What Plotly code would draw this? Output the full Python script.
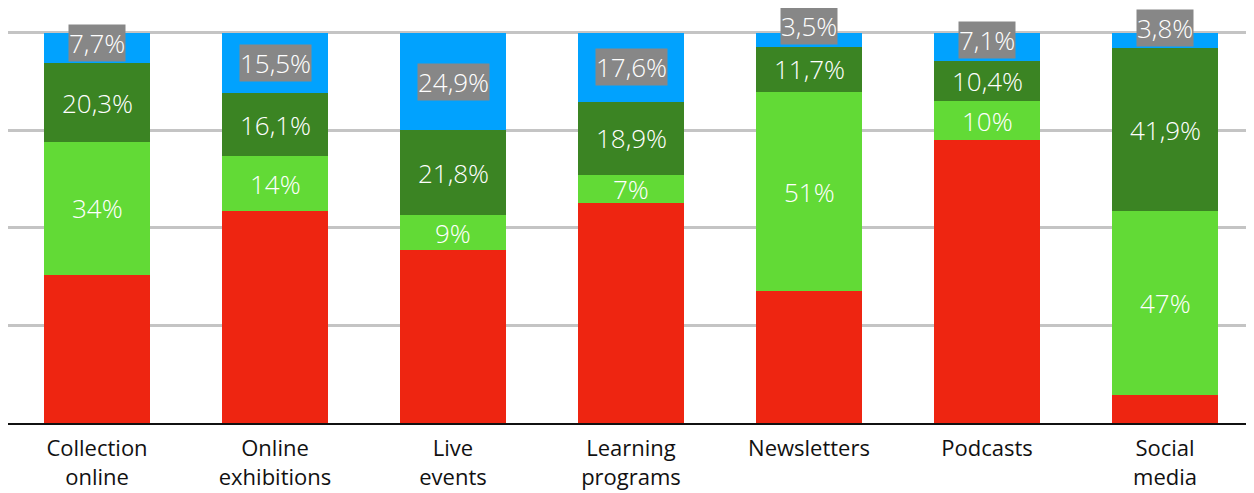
import plotly.graph_objects as go

categories = ["Collection<br>online", "Online<br>exhibitions", "Live<br>events", "Learning<br>programs",
              "Newsletters", "Podcasts", "Social<br>media"]
red_vals = [38.0, 54.4, 44.3, 56.5, 33.8, 72.5, 7.3]
light_green_vals = [34, 14, 9, 7, 51, 10, 47]
dark_green_vals = [20.3, 16.1, 21.8, 18.9, 11.7, 10.4, 41.9]
blue_vals = [7.7, 15.5, 24.9, 17.6, 3.5, 7.1, 3.8]

RED = "#EE2511"
LGREEN = "#62DA36"
DGREEN = "#3B8423"
BLUE = "#01A2FE"
GRAY = "#878787"
FONT = "Open Sans"

def fmt(v):
    s = ("%g" % v).replace(".", ",")
    return s + "%"

fig = go.Figure()
for vals, col in [(red_vals, RED), (light_green_vals, LGREEN), (dark_green_vals, DGREEN), (blue_vals, BLUE)]:
    fig.add_trace(go.Bar(x=categories, y=vals, marker=dict(color=col, line=dict(width=0)),
                         hoverinfo="skip", showlegend=False))

lab_font = dict(family=FONT, size=26, color="white", weight=300)
annotations = []
for i, cat in enumerate(categories):
    base = red_vals[i]
    annotations.append(dict(x=cat, y=base + light_green_vals[i] / 2, text=fmt(light_green_vals[i]),
                            showarrow=False, font=lab_font))
    base += light_green_vals[i]
    annotations.append(dict(x=cat, y=base + dark_green_vals[i] / 2, text=fmt(dark_green_vals[i]),
                            showarrow=False, font=lab_font))
    base += dark_green_vals[i]
    ymid = max(base + blue_vals[i] / 2, base + 5.2)
    annotations.append(dict(x=cat, y=ymid, text=fmt(blue_vals[i]), showarrow=False,
                            bgcolor=GRAY, borderpad=0, font=lab_font))

fig.update_layout(
    barmode="stack",
    bargap=0.41,
    width=1246, height=485,
    margin=dict(l=0, r=0, t=0, b=70),
    paper_bgcolor="white", plot_bgcolor="white",
    annotations=annotations,
    font=dict(family=FONT),
    xaxis=dict(showline=True, linecolor="#111111", linewidth=2, ticks="",
               ticklabelstandoff=5,
               tickfont=dict(family=FONT, size=22, color="#111111", weight=400), showgrid=False),
    yaxis=dict(range=[0, 106.4], tickvals=[25, 50, 75, 100], showticklabels=False,
               gridcolor="#C4C4C4", gridwidth=3, zeroline=False, showline=False),
)

fig.write_html("out.html")
